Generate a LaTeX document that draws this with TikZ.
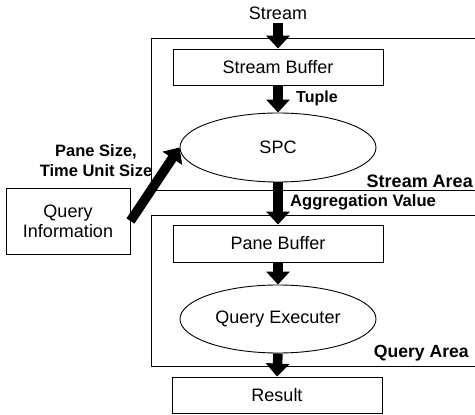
\documentclass[tikz,border=0pt]{standalone}
\usepackage{fontspec}
\setmainfont{Liberation Sans}
\newcommand\fsz[1]{\fontsize{#1}{20}\selectfont}
\usetikzlibrary{arrows.meta,shapes.geometric}
\tikzset{
  plain/.style={inner sep=0pt, font=\fsz{18}},
  box/.style={draw, line width=0.9pt, minimum width=210pt, minimum height=36pt, inner sep=0pt, font=\fsz{18}},
  ell/.style={draw, ellipse, line width=0.9pt, minimum width=196pt, minimum height=69pt, inner sep=0pt, font=\fsz{18}},
  lab/.style={inner sep=0pt, font=\bfseries\fsz{16.5}},
  area/.style={line width=0.9pt},
  bigarrow/.style={line width=9.5pt, -{Triangle[width=23pt,length=13pt]}},
}
\begin{document}
\begin{tikzpicture}[x=1pt,y=-1pt]
\useasboundingbox (0,0) rectangle (475,415);
% areas
\draw[area] (476,38) -- (151,38) -- (151,190) -- (476,190);
\draw[area] (476,215) -- (151,215) -- (151,366) -- (476,366);
% nodes
\node[plain] (stream) at (278,13) {Stream};
\node[box] (sb) at (278,67) {Stream Buffer};
\node[ell] (spc) at (278,147.5) {SPC};
\node[box, minimum height=37pt] (pb) at (278,243.5) {Pane Buffer};
\node[ell, minimum height=68pt] (qe) at (278,319) {Query Executer};
\node[box] (res) at (277,395) {Result};
\node[box, minimum width=124pt, minimum height=66pt, align=center] (qi) at (68,221) {Query\\Information};
% labels
\node[lab, anchor=west, font=\bfseries\fsz{16}] (tuple) at (296,98) {Tuple};
\node[lab, align=center] (ps) at (96,161) {Pane Size,\\Time Unit Size};
\node[lab, anchor=east, font=\bfseries\fsz{18}] (sa) at (473,181) {Stream Area};
\node[lab, anchor=west, font=\bfseries\fsz{16.6}] (av) at (290,202) {Aggregation Value};
\node[lab, anchor=east, font=\bfseries\fsz{17.6}] (qa) at (469,353) {Query Area};
% arrows
\draw[bigarrow] (stream.south) ++(0,3) coordinate (s0) (s0) -- (sb.north);
\draw[bigarrow] (sb.south) -- (spc.north);
\draw[bigarrow] (spc.south) -- (pb.north);
\draw[bigarrow] (pb.south) -- (qe.north);
\draw[bigarrow] (qe.south) -- (res.north);
\draw[bigarrow] (qi.east) -- (spc.west);
\end{tikzpicture}
\end{document}
